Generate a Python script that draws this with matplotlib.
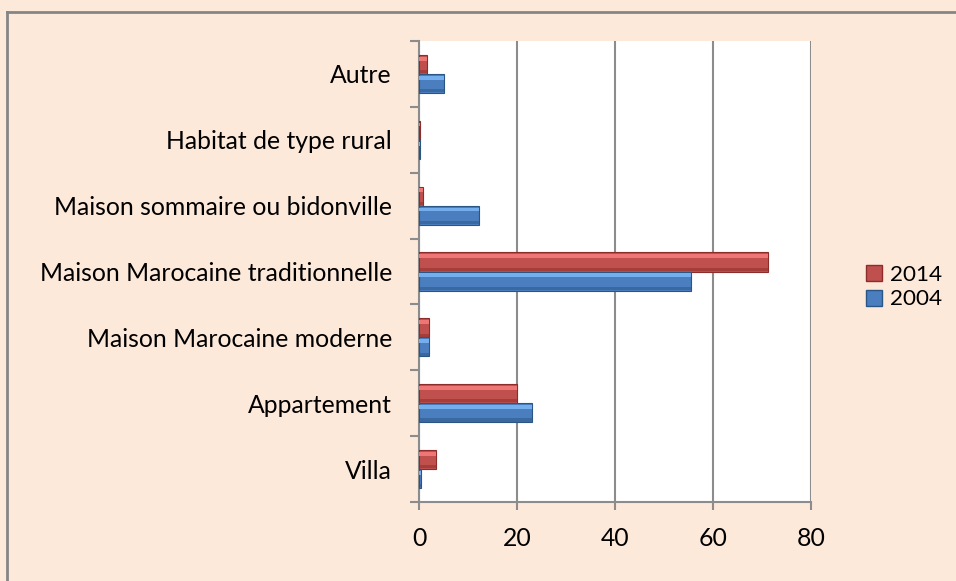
import matplotlib
matplotlib.use("Agg")
import matplotlib.pyplot as plt
import numpy as np
from matplotlib.patches import Patch
from matplotlib.lines import Line2D

categories = ["Villa", "Appartement", "Maison Marocaine moderne",
              "Maison Marocaine traditionnelle", "Maison sommaire ou bidonville",
              "Habitat de type rural", "Autre"]
values_2004 = [0.5, 23.0, 2.0, 55.6, 12.2, 0.2, 5.2]
values_2014 = [3.4, 19.9, 2.0, 71.2, 0.8, 0.2, 1.6]
xticks = [0, 20, 40, 60, 80]

plt.rcParams['font.family'] = ['Lato', 'DejaVu Sans']
FS = 17.8
LFS = 16.2

W, H = 956, 581
fig = plt.figure(figsize=(W / 100, H / 100), dpi=100)
fig.patch.set_facecolor('#FDE9DA')

# outer frame (top and left visible)
fig.add_artist(Line2D([7 / W, 7 / W], [0, 1 - 12 / H], transform=fig.transFigure,
                      color='#858585', lw=2))
fig.add_artist(Line2D([7 / W, 1], [1 - 12 / H, 1 - 12 / H], transform=fig.transFigure,
                      color='#858585', lw=2))

ax = fig.add_axes([419 / W, 1 - 502 / H, (811 - 419) / W, (502 - 41) / H])
ax.set_facecolor('white')

y = np.arange(len(categories))
h = 0.29

def bevel_bars(vals, offset, base, light, dark):
    yy = y + offset
    ax.barh(yy, vals, height=h, color=base, edgecolor=dark, linewidth=0.8, zorder=3)
    ax.barh(yy + h * 0.3, vals, height=h * 0.2, color=light, linewidth=0, zorder=4)
    ax.barh(yy - h * 0.38, vals, height=h * 0.16, color=dark, linewidth=0, zorder=4, alpha=0.5)

bevel_bars(values_2014, h / 2, '#C0504D', '#EE7775', '#8C2D2B')
bevel_bars(values_2004, -h / 2, '#4A7EBF', '#74AEEC', '#2B5585')

ax.set_xlim(0, 80)
ax.set_ylim(-0.5, len(categories) - 0.5)
ax.set_xticks(xticks)
ax.set_xticklabels([str(t) for t in xticks], fontsize=FS)
ax.set_yticks(y)
ax.set_yticklabels(categories, fontsize=FS)
ax.set_yticks(np.arange(-0.5, len(categories)), minor=True)
ax.tick_params(axis='y', which='major', length=0, pad=19.5)
ax.tick_params(axis='y', which='minor', length=6.5, width=1.5, color='#8C8C8C')
ax.tick_params(axis='x', length=6, width=1.5, color='#8C8C8C', pad=12)
ax.grid(axis='x', color='#8C8C8C', lw=1.5, zorder=1)
ax.set_axisbelow(True)
for s in ['top', 'right']:
    ax.spines[s].set_visible(False)
for s in ['left', 'bottom']:
    ax.spines[s].set_color('#8C8C8C')
    ax.spines[s].set_linewidth(1.5)

handles = [Patch(facecolor='#C0504D', edgecolor='#8C2D2B', label='2014'),
           Patch(facecolor='#4A7EBF', edgecolor='#2B5585', label='2004')]
fig.legend(handles=handles, loc='center left', bbox_to_anchor=(866 / W, 1 - 287 / H),
           frameon=False, fontsize=LFS, handlelength=0.71, handleheight=0.71,
           handletextpad=0.35, labelspacing=0.22, borderpad=0, borderaxespad=0)

fig.savefig('out.png', dpi=100, facecolor=fig.get_facecolor())
